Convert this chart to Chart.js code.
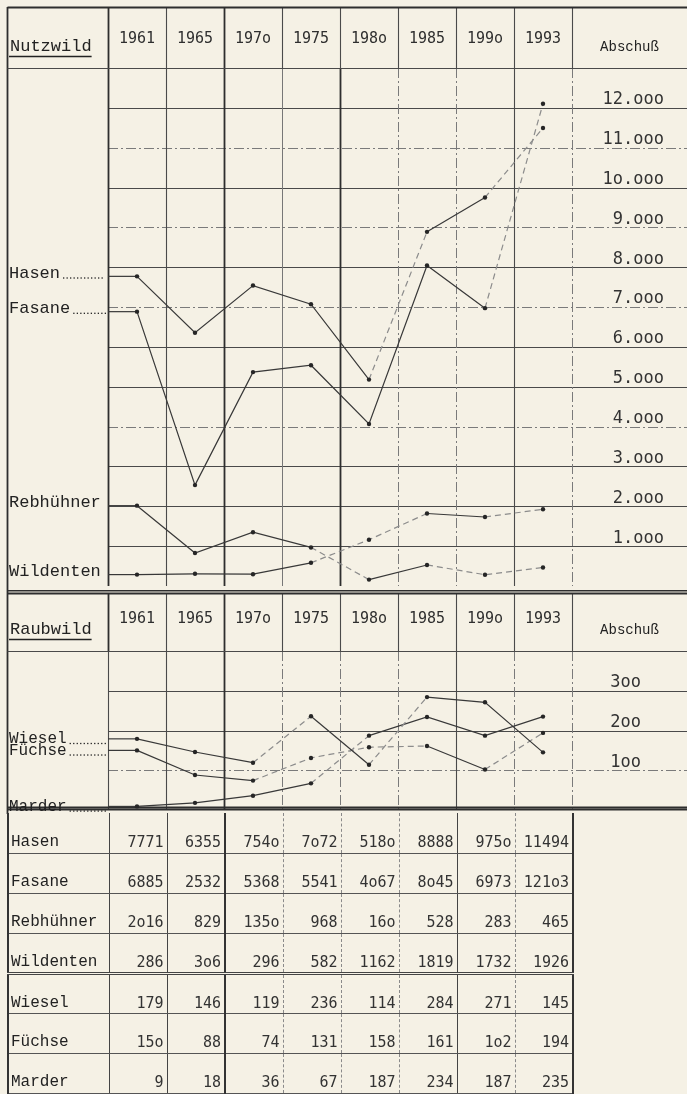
<!DOCTYPE html>
<html>
<head>
<meta charset="utf-8">
<script src="https://cdn.jsdelivr.net/npm/chart.js@4.4.0/dist/chart.umd.min.js"></script>
<style>
  html, body { margin: 0; padding: 0; background: #f5f1e5; }
  body { width: 687px; height: 1094px; position: relative; overflow: hidden; }
  canvas { position: absolute; left: 0; }
  #nutz { top: 0; }
  #raub { top: 590px; }
  #tbl { position: absolute; left: 7px; top: 813px; border-collapse: collapse; table-layout: fixed; }
  #tbl tr { height: 40px; }
  #tbl td { border-bottom: 1px solid #555; border-left: 1px dashed #8a8a8a; padding: 18px 3px 0 2px; white-space: nowrap; overflow: hidden; }
  #tbl td:nth-child(1) { border-left: 2px solid #333; }
  #tbl td:nth-child(2), #tbl td:nth-child(3), #tbl td:nth-child(8) { border-left: 1px solid #444; }
  #tbl td:nth-child(4) { border-left: 2px solid #333; }
  #tbl td:last-child { border-right: 2px solid #333; }
  #tbl tr.split td { border-bottom: 3px double #444; }
  #tbl td.name { font: 16px 'Liberation Mono', 'Courier New', monospace; color: #222; }
  #tbl td.num { font: 15px 'DejaVu Sans Mono', monospace; color: #333; text-align: right; }
</style>
</head>
<body>
<canvas id="nutz" width="687" height="590"></canvas>
<canvas id="raub" width="687" height="224"></canvas>
<table id="tbl"></table>
<script>
// Abschusszahlen
const years = ['1961', '1965', '1970', '1975', '1980', '1985', '1990', '1993'];

const hasen      = [7771, 6355, 7540, 7072, 5180, 8888, 9750, 11494];
const fasane     = [6885, 2532, 5368, 5541, 4067, 8045, 6973, 12103];
const rebhuehner = [2016, 829, 1350, 968, 160, 528, 283, 465];
const wildenten  = [286, 306, 296, 582, 1162, 1819, 1732, 1926];

const wiesel  = [179, 146, 119, 236, 114, 284, 271, 145];
const fuechse = [150, 88, 74, 131, 158, 161, 102, 194];
const marder  = [9, 18, 36, 67, 187, 234, 187, 235];

// typewriter zeros
const tw = s => String(s).replace(/0/g, 'o');
const thousands = v => v >= 1000 ? Math.floor(v / 1000) + '.' + String(v % 1000).padStart(3, '0') : String(v);

const ink = '#383838';
const mono = "'DejaVu Sans Mono', monospace";
const courier = "'Liberation Mono', 'Courier New', monospace";

const HEAVY = { color: '#2e2e2e', width: 1.8 };
const SOLID = { color: '#4a4a4a', width: 1.1 };
const LIGHT = { color: '#777', width: 1 };
const DASH  = { color: '#7a7a7a', width: 1, dash: [10, 3, 2, 3] };

function stroke(ctx, x1, y1, x2, y2, st) {
    ctx.beginPath();
    ctx.strokeStyle = st.color;
    ctx.lineWidth = st.width;
    ctx.setLineDash(st.dash || []);
    ctx.moveTo(x1, y1);
    ctx.lineTo(x2, y2);
    ctx.stroke();
}

// grid, header and row labels of the typed sheet
const frame = {
    id: 'frame',
    beforeDatasetsDraw(chart, args, o) {
        const { ctx, chartArea: ca, scales: { x, y } } = chart;
        const W = chart.width, L = 7.5;
        const n = chart.data.labels.length;
        const cw = (ca.right - ca.left) / n;
        ctx.save();

        y.ticks.forEach(t => {
            if (t.value <= y.min || t.value >= y.max) return;
            const py = Math.round(y.getPixelForValue(t.value)) + 0.5;
            stroke(ctx, ca.left, py, W, py, o.dashRows.includes(t.value) ? DASH : SOLID);
        });

        for (let i = 0; i <= n; i++) {
            const px = Math.round(ca.left + i * cw) + 0.5;
            stroke(ctx, px, x.top, px, ca.top, i === 0 || i === 2 ? HEAVY : SOLID);
            stroke(ctx, px, ca.top, px, ca.bottom, o.cols[i]);
        }

        stroke(ctx, L, o.double ? 0 : x.top, L, chart.height, HEAVY);
        if (o.double) {
            stroke(ctx, L, 0.5, W, 0.5, HEAVY);
            stroke(ctx, L, ca.bottom - 2.5, W, ca.bottom - 2.5, HEAVY);
            stroke(ctx, L, ca.bottom - 0.5, W, ca.bottom - 0.5, HEAVY);
        }
        stroke(ctx, L, x.top + 0.5, W, x.top + 0.5, HEAVY);
        stroke(ctx, L, ca.top + 0.5, W, ca.top + 0.5, SOLID);

        // header
        const hy = x.bottom - 17;
        ctx.fillStyle = '#222';
        ctx.font = '17px ' + courier;
        ctx.textAlign = 'left';
        ctx.textBaseline = 'alphabetic';
        ctx.fillText(o.title, 10, hy);
        const tl = ctx.measureText(o.title).width;
        stroke(ctx, 9, hy + 5.5, 10 + tl, hy + 5.5, { color: '#222', width: 1.6 });
        ctx.font = '14px ' + courier;
        ctx.textAlign = 'center';
        ctx.fillText('Abschuß', (ca.right + W) / 2, hy);

        // row labels with leaders
        chart.data.datasets.forEach(ds => {
            const py = y.getPixelForValue(ds.data[0]);
            const p0 = x.getPixelForValue(0);
            stroke(ctx, ca.left, py, p0, py, { color: ink, width: 1.2 });
            ctx.font = o.labelSize + 'px ' + courier;
            ctx.textAlign = 'left';
            ctx.textBaseline = 'middle';
            ctx.fillStyle = '#222';
            const ly = py + o.labelDy;
            ctx.fillText(ds.label, 9, ly);
            if (o.dots.includes(ds.label)) {
                const end = 9 + ctx.measureText(ds.label).width + 3;
                for (let dx = end; dx < ca.left - 3; dx += 3.5) ctx.fillRect(dx, ly + 4, 1.3, 1.3);
            }
        });
        ctx.restore();
    }
};

function series(label, data, dashed) {
    return {
        label, data,
        borderColor: ink,
        borderWidth: 1.2,
        pointRadius: 2.2,
        pointBackgroundColor: '#262626',
        pointBorderWidth: 0,
        tension: 0,
        segment: {
            borderDash: c => dashed.includes(c.p0DataIndex) ? [6, 4] : undefined,
            borderColor: c => dashed.includes(c.p0DataIndex) ? '#8c8c8c' : undefined
        }
    };
}

function sheet(canvasId, cfg) {
    return new Chart(document.getElementById(canvasId), {
        type: 'line',
        data: { labels: years.map(tw), datasets: cfg.datasets },
        options: {
            responsive: false,
            animation: false,
            layout: { padding: { left: 108, right: cfg.right, top: cfg.top, bottom: cfg.bottom } },
            plugins: {
                legend: { display: false },
                tooltip: { enabled: false },
                frame: cfg.frame
            },
            scales: {
                x: {
                    position: 'top',
                    offset: true,
                    grid: { display: false },
                    border: { display: false },
                    ticks: { font: { family: mono, size: 15 }, color: '#2f2f2f', padding: cfg.xPad, maxRotation: 0, autoSkip: false },
                    afterFit: s => { s.height = cfg.header; }
                },
                y: {
                    position: 'right',
                    min: 0,
                    max: cfg.max,
                    grid: { display: false },
                    border: { display: false },
                    ticks: {
                        stepSize: cfg.step,
                        callback: v => (v <= 0 || v >= cfg.max) ? '' : tw(thousands(v)),
                        font: { family: mono, size: 17 },
                        color: '#333',
                        crossAlign: 'far',
                        padding: 0,
                        labelOffset: -8
                    },
                    afterFit: s => {
                        s.width = 115 - cfg.right;
                        s.paddingTop = 0;
                        s.paddingBottom = 0;
                    }
                }
            }
        },
        plugins: [frame]
    });
}

const nutzChart = sheet('nutz', {
    datasets: [
        series('Hasen', hasen, [4, 6]),
        series('Fasane', fasane, [6]),
        series('Rebhühner', rebhuehner, [3, 5, 6]),
        series('Wildenten', wildenten, [3, 4, 6])
    ],
    top: 7, bottom: 0, right: 23, header: 61, xPad: 12,
    max: 13000, step: 1000,
    frame: {
        title: 'Nutzwild', double: false, labelSize: 17, labelDy: -3,
        dots: ['Hasen', 'Fasane'],
        dashRows: [11000, 9000, 7000, 4000],
        cols: [HEAVY, SOLID, HEAVY, LIGHT, HEAVY, DASH, DASH, SOLID, DASH]
    }
});

sheet('raub', {
    datasets: [
        series('Wiesel', wiesel, [2, 4]),
        series('Füchse', fuechse, [2, 3, 4, 6]),
        series('Marder', marder, [3])
    ],
    top: 3, bottom: 1, right: 46, header: 58, xPad: 15,
    max: 400, step: 100,
    frame: {
        title: 'Raubwild', double: true, labelSize: 16, labelDy: 0,
        dots: ['Wiesel', 'Füchse', 'Marder'],
        dashRows: [100],
        cols: [SOLID, SOLID, HEAVY, DASH, DASH, DASH, SOLID, DASH, DASH]
    }
});

// table of the same figures, columns taken from the chart
const rows = [
    ['Hasen', hasen], ['Fasane', fasane], ['Rebhühner', rebhuehner], ['Wildenten', wildenten],
    ['Wiesel', wiesel], ['Füchse', fuechse], ['Marder', marder]
];
const area = nutzChart.chartArea;
const colW = (area.right - area.left) / years.length;
const tbl = document.getElementById('tbl');
let html = '<colgroup><col style="width:' + (area.left - 7) + 'px">';
years.forEach(() => { html += '<col style="width:' + colW + 'px">'; });
html += '</colgroup>';
rows.forEach(([name, vals], i) => {
    html += '<tr' + (i === 3 ? ' class="split"' : '') + '><td class="name">' + name + '</td>';
    vals.forEach(v => { html += '<td class="num">' + tw(v) + '</td>'; });
    html += '</tr>';
});
tbl.innerHTML = html;
tbl.style.width = (area.right - 7) + 'px';
</script>
</body>
</html>
